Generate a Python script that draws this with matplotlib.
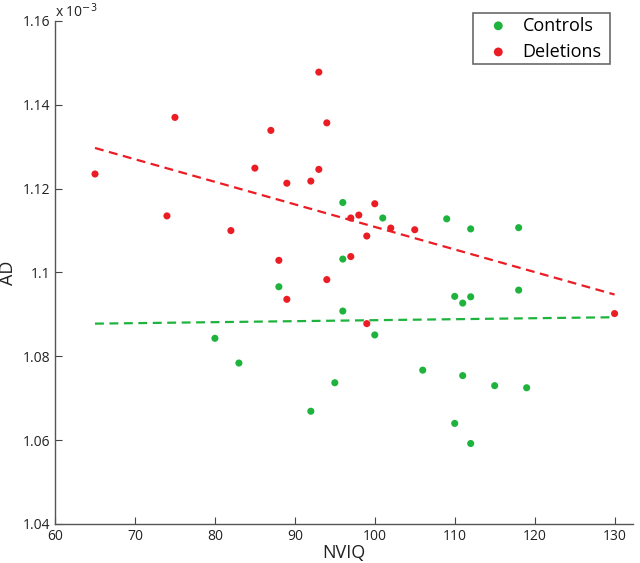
import numpy as np
import matplotlib
matplotlib.use("Agg")
import matplotlib.pyplot as plt

# NVIQ vs AD (AD in units of 1e-3)
ctrl_nviq = [96, 101, 109, 96, 112, 118, 110, 111, 112, 118, 111, 115,
             119, 110, 112, 88, 96, 100, 106, 95, 92, 80, 83]
ctrl_ad = [1.1167, 1.1130, 1.1128, 1.1032, 1.1104, 1.1107, 1.0943, 1.0927,
           1.0942, 1.0958, 1.0754, 1.0730, 1.0725, 1.0640, 1.0592, 1.0966,
           1.0908, 1.0851, 1.0767, 1.0737, 1.0669, 1.0843, 1.0784]

del_nviq = [65, 75, 74, 82, 85, 93, 94, 87, 93, 89, 92, 100, 97, 98, 99,
            102, 105, 97, 88, 94, 89, 99, 130]
del_ad = [1.1235, 1.1370, 1.1135, 1.1100, 1.1249, 1.1478, 1.1357, 1.1339,
          1.1246, 1.1213, 1.1218, 1.1164, 1.1130, 1.1137, 1.1087, 1.1106,
          1.1102, 1.1038, 1.1029, 1.0983, 1.0936, 1.0878, 1.0902]

green = '#1db33c'
red = '#ec1c24'

plt.rcParams['font.family'] = ['Open Sans', 'DejaVu Sans']

fig = plt.figure(figsize=(6.4, 5.63), dpi=100)
ax = fig.add_axes([0.086, 0.0693, 0.903, 0.8934])

ax.scatter(ctrl_nviq, ctrl_ad, s=26, color=green, edgecolors='none',
           label='Controls', zorder=3)
ax.scatter(del_nviq, del_ad, s=26, color=red, edgecolors='none',
           label='Deletions', zorder=3)

# least squares fits drawn over the full NVIQ range
all_x = ctrl_nviq + del_nviq
xs = np.array([min(all_x), max(all_x)])
for xv, yv, c in [(ctrl_nviq, ctrl_ad, green), (del_nviq, del_ad, red)]:
    k, b = np.polyfit(xv, yv, 1)
    ax.plot(xs, k * xs + b, '--', color=c, lw=1.6, dashes=(4, 2.5), zorder=2)

ax.set_xlim(60, 132.3)
ax.set_ylim(1.04, 1.16)
ax.set_xticks(np.arange(60, 131, 10))
ax.set_yticks([1.04, 1.06, 1.08, 1.1, 1.12, 1.14, 1.16])
ax.set_yticklabels(['1.04', '1.06', '1.08', '1.1', '1.12', '1.14', '1.16'])

for s in ['top', 'right']:
    ax.spines[s].set_visible(False)
for s in ['left', 'bottom']:
    ax.spines[s].set_color('#555555')
    ax.spines[s].set_linewidth(1.0)
ax.tick_params(direction='in', length=5, width=0.8, color='#444444',
               labelsize=10, labelcolor='#222222')

ax.set_xlabel('NVIQ', fontsize=13, color='#222222', labelpad=0)
ax.set_ylabel('AD', fontsize=13, color='#222222', labelpad=4)
ax.text(0.0, 1.008, r'x 10$^{-3}$', transform=ax.transAxes, fontsize=10,
        color='#222222', ha='left', va='baseline')

leg = ax.legend(loc='upper right', bbox_to_anchor=(0.7232, 0.5, 0.237, 0.516),
                mode='expand', borderaxespad=0, fontsize=13,
                frameon=True, fancybox=False, edgecolor='#444444',
                handlelength=2.4, handletextpad=0.15, borderpad=0.2,
                labelspacing=0.45, scatterpoints=1, markerscale=1.25)
leg.get_frame().set_linewidth(1.2)

fig.savefig('out.png', dpi=100, facecolor='white')
